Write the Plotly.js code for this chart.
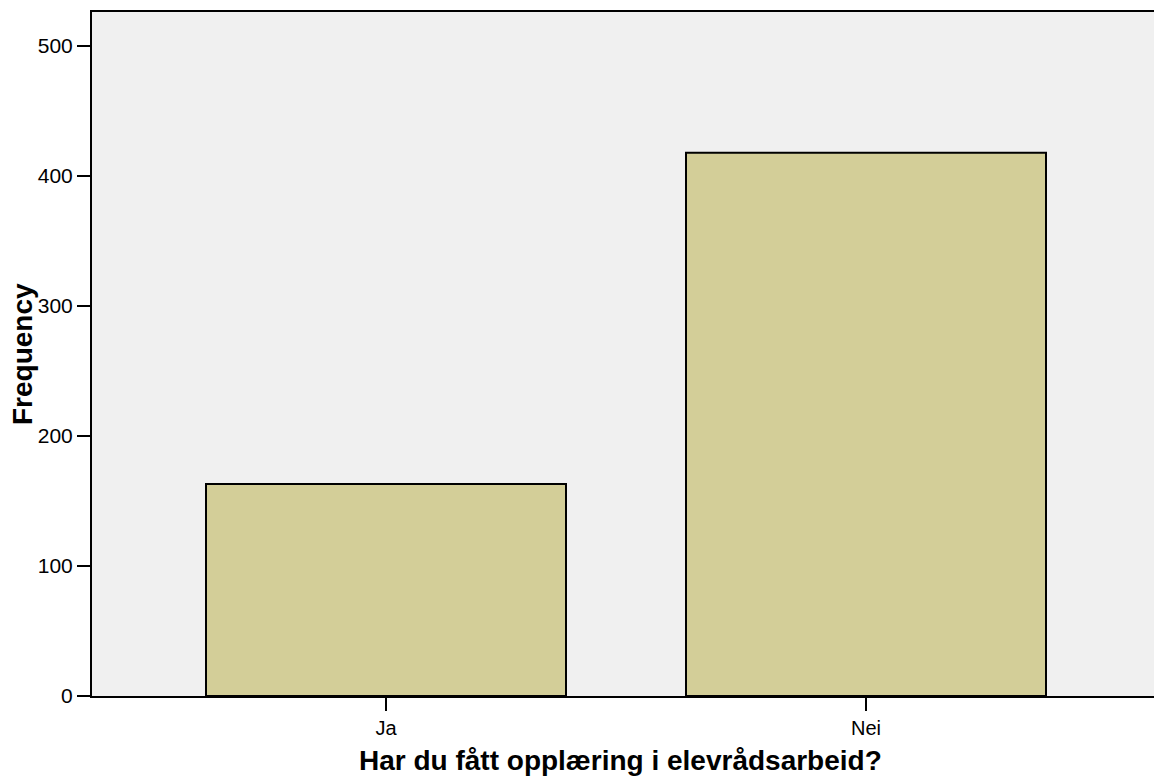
<!DOCTYPE html>
<html>
<head>
<meta charset="utf-8">
<script src="https://cdn.plot.ly/plotly-3.0.1.min.js"></script>
<style>
  html, body { margin: 0; padding: 0; background: #ffffff; }
  #chart { width: 1154px; height: 776px; }
</style>
</head>
<body>
<div id="chart"></div>
<script>
const categories = ["Ja", "Nei"];
const frequencies = [163, 418];
const yTickValues = [0, 100, 200, 300, 400, 500];
const xTitle = "Har du fått opplæring i elevrådsarbeid?";
const yTitle = "Frequency";

const fontFamily = "'Liberation Sans', Arial, Helvetica, sans-serif";

const trace = {
  type: "bar",
  x: categories,
  y: frequencies,
  width: 0.75,
  marker: {
    color: "#d3ce98",
    line: { color: "#000000", width: 2 }
  },
  hoverinfo: "x+y"
};

const titleFont = { size: 28, family: fontFamily, color: "#000000", weight: "bold" };

const layout = {
  width: 1154,
  height: 776,
  margin: { l: 92, r: 0, t: 12, b: 80, pad: 0 },
  paper_bgcolor: "#ffffff",
  plot_bgcolor: "#f0f0f0",
  showlegend: false,
  font: { family: fontFamily, color: "#000000" },
  xaxis: {
    type: "category",
    range: [-0.6125, 1.6],
    showgrid: false,
    zeroline: false,
    showline: true,
    linecolor: "#000000",
    linewidth: 2,
    mirror: true,
    ticks: "outside",
    ticklen: 13,
    tickwidth: 2,
    tickcolor: "#000000",
    tickfont: { size: 20, family: fontFamily, color: "#000000" },
    automargin: false
  },
  yaxis: {
    range: [0, 526.2],
    tickvals: yTickValues,
    ticktext: yTickValues.map(String),
    showgrid: false,
    zeroline: false,
    showline: true,
    linecolor: "#000000",
    linewidth: 2,
    mirror: false,
    ticks: "outside",
    ticklen: 13,
    tickwidth: 2,
    tickcolor: "#000000",
    tickfont: { size: 21, family: fontFamily, color: "#000000" },
    automargin: false
  },
  annotations: [
    {
      text: xTitle,
      xref: "paper", yref: "paper",
      x: 0.4977, y: -0.0936,
      xanchor: "center", yanchor: "middle",
      showarrow: false,
      font: titleFont
    },
    {
      text: yTitle,
      xref: "paper", yref: "paper",
      x: -0.0659, y: 0.5,
      xanchor: "center", yanchor: "middle",
      textangle: -90,
      showarrow: false,
      font: titleFont
    }
  ],
  bargap: 0.25
};

Plotly.newPlot("chart", [trace], layout, { displayModeBar: false });
</script>
</body>
</html>
